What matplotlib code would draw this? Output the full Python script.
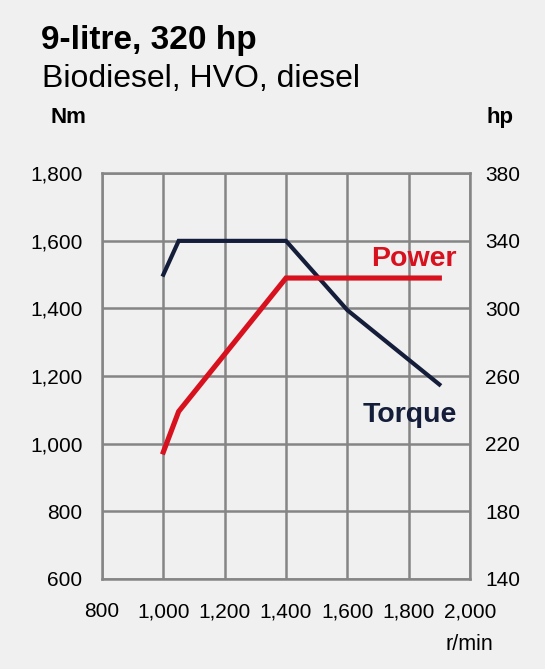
import numpy as np
import matplotlib
matplotlib.use('Agg')
import matplotlib.pyplot as plt

plt.rcParams['font.family'] = ['Liberation Sans', 'DejaVu Sans']

# data
rpm_torque = [1000, 1050, 1400, 1600, 1900]
torque = [1500, 1600, 1600, 1395, 1175]   # Nm
rpm_power = [1000, 1050, 1400, 1900]
power = [215, 239, 318, 318]              # hp

x_ticks = [800, 1000, 1200, 1400, 1600, 1800, 2000]
nm_ticks = [600, 800, 1000, 1200, 1400, 1600, 1800]
hp_ticks = [140, 180, 220, 260, 300, 340, 380]

bg = '#f0f0f0'
grid_c = '#858585'
red = '#d7111e'
navy = '#141d3a'

W, H = 545, 669
fig = plt.figure(figsize=(W/100, H/100), dpi=100, facecolor=bg)
ax = fig.add_axes([102/W, 1 - 578.7/H, 368/W, 405.4/H])
ax.set_facecolor(bg)
ax.set_xlim(800, 2000)
ax.set_ylim(600, 1800)
ax.set_xticks(x_ticks)
ax.set_yticks(nm_ticks)
ax.set_xticklabels([f'{v:,}' for v in x_ticks])
ax.set_yticklabels([f'{v:,}' for v in nm_ticks])
ax.grid(True, color=grid_c, lw=1.8)
ax.set_axisbelow(True)
for s in ax.spines.values():
    s.set_color(grid_c)
    s.set_linewidth(1.8)
ax.tick_params(length=0, labelsize=15, colors='black')
ax.tick_params(axis='y', pad=14)
ax.tick_params(axis='x', pad=17)

ax2 = ax.twinx()
ax2.set_ylim(140, 380)
ax2.set_yticks(hp_ticks)
ax2.tick_params(length=0, labelsize=15, pad=11)
for s in ax2.spines.values():
    s.set_visible(False)

ax.plot(rpm_torque, torque, color=navy, lw=3, solid_joinstyle='miter', zorder=3)
ax2.plot(rpm_power, power, color=red, lw=3.7, solid_joinstyle='miter', zorder=3)

ax.text(1958, 1526, 'Power', color=red, fontsize=20.5, fontweight='bold',
        ha='right', va='baseline')
ax.text(1958, 1065, 'Torque', color=navy, fontsize=20.5, fontweight='bold',
        ha='right', va='baseline')

def ftext(x, y, s, **kw):
    fig.text(x/W, 1 - y/H, s, va='baseline', **kw)

ftext(41, 49, '9-litre, 320 hp', fontsize=24, fontweight='bold')
ftext(42, 87, 'Biodiesel, HVO, diesel', fontsize=23)
ftext(50, 123, 'Nm', fontsize=16, fontweight='bold')
ftext(487, 123, 'hp', fontsize=16, fontweight='bold')
ftext(493, 650, 'r/min', fontsize=15.5, ha='right')

fig.savefig('out.png', dpi=100, facecolor=bg)
